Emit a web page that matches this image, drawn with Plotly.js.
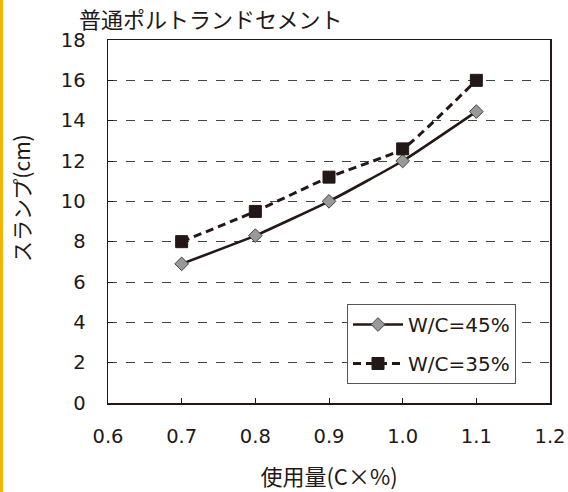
<!DOCTYPE html>
<html>
<head>
<meta charset="utf-8">
<script src="https://cdn.plot.ly/plotly-3.0.1.min.js"></script>
<style>
html,body{margin:0;padding:0;background:#fff;}
#bar{position:absolute;left:0;top:0;width:3px;height:492px;background:#f5b400;}
#chart{position:absolute;left:0;top:0;width:568px;height:492px;}
</style>
</head>
<body>
<div id="chart"></div>
<div id="bar"></div>
<script>
const usage = [0.7, 0.8, 0.9, 1.0, 1.1];
const slumpWC45 = [6.9, 8.3, 10.0, 12.0, 14.45];
const slumpWC35 = [8.0, 9.5, 11.2, 12.6, 16.0];
const seriesNames = ['W/C=45%', 'W/C=35%'];
const chartTitle = '普通ポルトランドセメント';
const xTitle = '使用量(C×%)';
const yTitle = 'スランプ(cm)';
const ink = '#231815';
const numFam = '"DejaVu Sans", "Noto Sans CJK JP", sans-serif';
const jpFam = '"Noto Sans CJK JP", sans-serif';

const traces = [
  {
    x: usage, y: slumpWC45, name: seriesNames[0], type: 'scatter', mode: 'lines+markers',
    legendgroup: 'a',
    line: {color: ink, width: 2.6, shape: 'spline', smoothing: 0.4},
    marker: {symbol: 'diamond', size: 10.5, color: '#999999', line: {color: '#444444', width: 1}}
  },
  {
    x: usage, y: slumpWC35, name: seriesNames[1], type: 'scatter', mode: 'lines+markers',
    legendgroup: 'b',
    line: {color: ink, width: 3, dash: '8px,5px', shape: 'spline', smoothing: 0.4},
    marker: {symbol: 'square', size: 12, color: ink, line: {color: ink, width: 1}}
  }
];

const layout = {
  width: 568, height: 492,
  margin: {l: 108, r: 18, t: 40, b: 89},
  paper_bgcolor: '#ffffff', plot_bgcolor: '#ffffff',
  font: {family: numFam, color: ink, size: 19.5},
  showlegend: true,
  title: {
    text: chartTitle,
    font: {family: jpFam, size: 22, color: ink},
    xref: 'container', yref: 'container', x: 79/568, xanchor: 'left', y: 1 - 20/492, yanchor: 'middle'
  },
  xaxis: {
    range: [0.6, 1.2], dtick: 0.1, tick0: 0.6, tickformat: '.1f',
    ticks: 'inside', ticklen: 5, tickcolor: ink, tickwidth: 1,
    showline: true, linecolor: ink, linewidth: 1.5, mirror: true,
    showgrid: false, zeroline: false,
    ticklabelstandoff: 15,
    tickfont: {size: 19.5, color: ink, family: numFam},
    title: {text: xTitle, font: {family: jpFam, size: 22, color: ink}, standoff: 22}
  },
  yaxis: {
    range: [0, 18], dtick: 2, tick0: 0,
    ticks: 'inside', ticklen: 5, tickcolor: ink, tickwidth: 1,
    showline: true, linecolor: ink, linewidth: 1.5, mirror: true,
    showgrid: true, gridcolor: '#444444', griddash: 'dash', gridwidth: 1,
    zeroline: false,
    ticklabelstandoff: 17,
    tickfont: {size: 19.5, color: ink, family: numFam}
  },
  annotations: [{
    text: yTitle, textangle: -90, showarrow: false,
    xref: 'paper', yref: 'paper', x: (21 - 108) / 442, y: (403 - 198) / 363,
    xanchor: 'center', yanchor: 'middle',
    font: {family: jpFam, size: 21, color: ink}
  }],
  legend: {
    x: (347 - 108) / 442, xref: 'paper', y: (403 - 304) / 363, yref: 'paper',
    xanchor: 'left', yanchor: 'top',
    bgcolor: '#ffffff', bordercolor: '#555555', borderwidth: 1,
    font: {size: 20, color: ink, family: numFam},
    itemwidth: 50,
    traceorder: 'grouped', tracegroupgap: 10
  }
};

Plotly.newPlot('chart', traces, layout, {displayModeBar: false, staticPlot: true});
</script>
</body>
</html>
